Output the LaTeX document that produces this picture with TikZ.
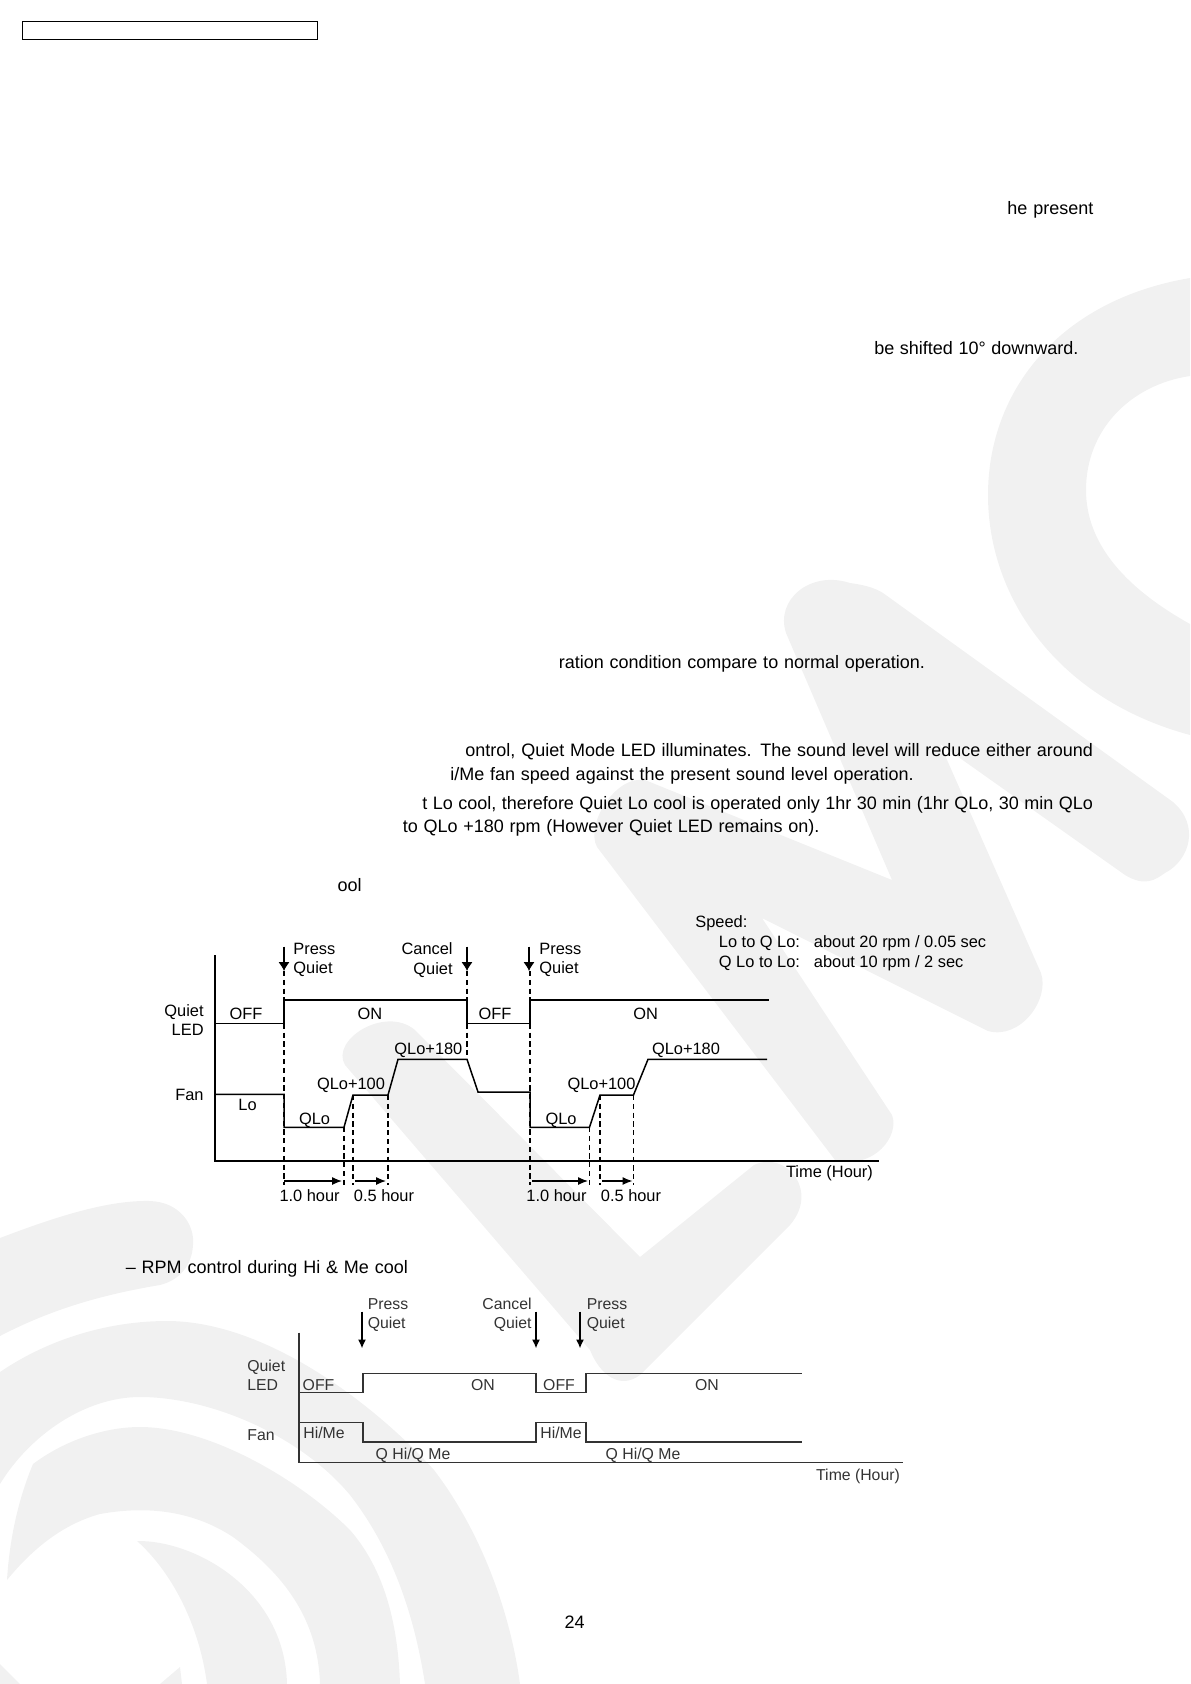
\documentclass[tikz,border=0pt]{standalone}
\usepackage{fontspec}
\setmainfont{Liberation Sans}
\usetikzlibrary{arrows.meta}
\definecolor{markgray}{HTML}{F1F1F1}
\definecolor{softblack}{HTML}{333333}
\newcommand{\fitline}[2]{\makebox[#1][s]{#2}}
\tikzset{
    bodytxt/.style={inner sep=0pt,text height=6.4pt,text depth=0pt,font=\fontsize{9}{11}\selectfont},
    lbl/.style={inner sep=0pt,text height=5.8pt,text depth=0pt,font=\fontsize{8.2}{9.7}\selectfont},
    lbltwo/.style={inner sep=0pt,align=#1,font=\fontsize{8.2}{9.7}\selectfont},
    lblb/.style={inner sep=0pt,text height=5.6pt,text depth=0pt,text=softblack,font=\fontsize{7.9}{9.4}\selectfont},
    lbltwob/.style={inner sep=0pt,align=#1,text=softblack,font=\fontsize{7.9}{9.4}\selectfont},
    guide/.style={line width=0.6pt,dash pattern=on 2.6pt off 1.8pt},
    trace/.style={line width=0.75pt},
    traceb/.style={line width=0.7pt,softblack},
}
\begin{document}
\begin{tikzpicture}[x=0.5pt,y=-0.5pt,>={Latex[length=4.4pt,width=5.6pt]}]
    \useasboundingbox (0,0) rectangle (1190,1684);

    % background mark
    \fill[markgray] (645,780) -- (892,880) -- (786,633)
    .. controls (775,600) and (810,570) .. (850,583)
    .. controls (865,585) and (875,588) .. (883,593)
    -- (1173,802)
    .. controls (1200,825) and (1190,860) .. (1165,873)
    .. controls (1155,880) and (1145,887) .. (1125,875)
    -- (940,744) -- (1041,973)
    .. controls (1050,1000) and (1020,1040) .. (988,1031)
    -- (762,918) -- (892,1115)
    .. controls (900,1135) and (875,1170) .. (835,1160)
    -- (597,847)
    .. controls (585,825) and (615,775) .. (645,780)
    -- cycle;
    \fill[markgray] (345,1065)
    .. controls (330,1040) and (385,1005) .. (415,1030)
    -- (640,1257) -- (754,1165)
    .. controls (785,1150) and (820,1190) .. (790,1225)
    -- (640,1375)
    .. controls (620,1390) and (600,1375) .. (590,1350)
    -- cycle;
    \fill[markgray] (1190,278) .. controls (1060,300) and (988,390) .. (988,495)
    .. controls (988,600) and (1060,700) .. (1190,735)
    -- (1190,624) .. controls (1120,585) and (1086,540) .. (1086,490)
    .. controls (1086,430) and (1130,385) .. (1190,376) -- cycle;
    \fill[markgray] (0,1238) .. controls (60,1215) and (110,1200) .. (150,1201)
    .. controls (180,1202) and (195,1225) .. (193,1245)
    .. controls (192,1265) and (180,1280) .. (160,1285)
    .. controls (100,1295) and (50,1310) .. (0,1336) -- cycle;
    \fill[markgray] (0,1372) .. controls (50,1338) and (110,1321) .. (167,1321)
    .. controls (270,1321) and (380,1410) .. (434,1470)
    .. controls (480,1530) and (510,1610) .. (520,1684)
    -- (425,1684) .. controls (412,1600) and (385,1540) .. (350,1495)
    .. controls (300,1435) and (210,1397) .. (140,1397)
    .. controls (85,1397) and (30,1435) .. (0,1484) -- cycle;
    \fill[markgray] (7,1580) .. controls (10,1530) and (22,1490) .. (33,1464)
    .. controls (65,1440) and (105,1427) .. (140,1427)
    .. controls (210,1427) and (300,1480) .. (350,1530)
    .. controls (385,1570) and (398,1625) .. (400,1684)
    -- (320,1684) .. controls (318,1620) and (285,1575) .. (233,1537)
    .. controls (195,1512) and (150,1505) .. (100,1514)
    .. controls (60,1525) and (30,1552) .. (7,1580) -- cycle;
    \fill[markgray] (137,1541) .. controls (195,1540) and (285,1590) .. (287,1684)
    -- (207,1684) .. controls (200,1630) and (175,1575) .. (137,1541) -- cycle;
    \fill[markgray] (160,1684) -- (180,1667) -- (182,1684) -- cycle;
    \fill[markgray] (0,1664) -- (20,1684) -- (0,1684) -- cycle;

    \draw[line width=0.5pt] (22,22) rectangle (317,40);

    % body lines
    \node[bodytxt,anchor=west] (linepresent) at (1007,208) {\fitline{43pt}{he present}};
    \node[bodytxt,anchor=west] (lineshift) at (874,348) {\fitline{102pt}{be shifted 10° downward.}};
    \node[bodytxt,anchor=west] (linecond) at (558.5,662.2) {\fitline{183pt}{ration condition compare to normal operation.}};
    \node[bodytxt,anchor=west] (lineled) at (465,750) {\fitline{313.8pt}{ontrol, Quiet Mode LED illuminates. The sound level will reduce either around}};
    \node[bodytxt,anchor=west] (linefan) at (450,774.5) {\fitline{231.7pt}{i/Me fan speed against the present sound level operation.}};
    \node[bodytxt,anchor=west] (linelo) at (422,803) {\fitline{335.3pt}{t Lo cool, therefore Quiet Lo cool is operated only 1hr 30 min (1hr QLo, 30 min QLo}};
    \node[bodytxt,anchor=west] (lineqlo) at (402.5,826) {\fitline{208.3pt}{to QLo +180 rpm (However Quiet LED remains on).}};
    \node[bodytxt,anchor=west] (lineool) at (337.2,885.5) {ool};
    \node[bodytxt,anchor=west] (linerpm) at (125.5,1267) {\fitline{141pt}{– RPM control during Hi \& Me cool}};
    \node[bodytxt] (pagenum) at (574.6,1622) {24};

    % Lo cool chart
    \draw[line width=0.85pt] (215,955) -- (215,1161) -- (879,1161);
    \draw[trace] (215,1023.3) -- (284,1023.3) -- (284,1000) -- (467,1000) -- (467,1023.3) -- (530,1023.3) -- (530,1000) -- (769,1000);
    \draw[trace] (215,1094.3) -- (284,1094.3) -- (284,1127.3) -- (344,1127.3) -- (353,1095) -- (388,1095) -- (398,1059.3)
    -- (467,1059.3) -- (478,1092) -- (530,1092) -- (530,1127.3) -- (589.5,1127.3) -- (600,1095) -- (633.5,1095) -- (648,1059.3) -- (767,1059.3);
    \foreach \xa/\ya in {284/971,529/971,467/971}
        \draw[->,line width=0.75pt] (\xa,946.7) -- (\xa,\ya);
    \draw[guide] (284,971) -- (284,1185);
    \draw[guide] (530,971) -- (530,1185);
    \draw[guide] (467,971) -- (467,1059);
    \foreach \xa/\ya in {344/1127,353/1095,388/1095,589.5/1127,600/1095,633.5/1095}
        \draw[guide] (\xa,\ya) -- (\xa,1185);
    \foreach \xa/\xb in {284/342,355/386,532/588,602/632.5}
        \draw[->,line width=0.6pt,>={Latex[length=5pt,width=4pt]}] (\xa,1181) -- (\xb,1181);

    \node[lbltwo=left,anchor=west] (pressa) at (293,960) {Press\\Quiet};
    \node[lbltwo=right,anchor=east] (cancela) at (453,960) {Cancel\\Quiet};
    \node[lbltwo=left,anchor=west] (pressb) at (539,960) {Press\\Quiet};
    \node[lbltwo=right,anchor=east] (ledname) at (204,1020) {Quiet\\LED};
    \node[lbl,anchor=east] (fanname) at (204,1095) {Fan};
    \node[lbl] (offa) at (246,1013.3) {OFF};
    \node[lbl] (ona) at (370,1013.3) {ON};
    \node[lbl] (offb) at (495,1013.3) {OFF};
    \node[lbl] (onb) at (645.6,1013.3) {ON};
    \node[lbl] (lolevel) at (247.6,1105) {Lo};
    \node[lbl] (qloa) at (314.5,1118.5) {QLo};
    \node[lbl] (qlob) at (561,1118.5) {QLo};
    \node[lbl] (plusa) at (351,1084) {QLo+100};
    \node[lbl] (plusb) at (601.5,1084) {QLo+100};
    \node[lbl] (plusc) at (428.4,1048.7) {QLo+180};
    \node[lbl] (plusd) at (686,1048.7) {QLo+180};
    \node[lbl] (timea) at (829.5,1172) {Time (Hour)};
    \node[lbl] (houra) at (309.6,1196) {1.0 hour};
    \node[lbl] (hourb) at (384,1196) {0.5 hour};
    \node[lbl] (hourc) at (556.5,1196) {1.0 hour};
    \node[lbl] (hourd) at (631,1196) {0.5 hour};
    \node[lbl,anchor=west] (speedname) at (695,922) {Speed:};
    \node[lbl,anchor=west] (speeddown) at (718.5,941.7) {Lo to Q Lo:};
    \node[lbl,anchor=west] (speedup) at (718.5,961.7) {Q Lo to Lo:};
    \node[lbl,anchor=west] (ratedown) at (813.5,941.7) {about 20 rpm / 0.05 sec};
    \node[lbl,anchor=west] (rateup) at (813.5,961.7) {about 10 rpm / 2 sec};

    % Hi and Me cool chart
    \draw[traceb] (299,1332.7) -- (299,1462.3) -- (903,1462.3);
    \draw[traceb] (299,1392.7) -- (363,1392.7) -- (363,1373.3) -- (536,1373.3) -- (536,1392.7) -- (586,1392.7) -- (586,1373.3) -- (801.6,1373.3);
    \draw[traceb] (299,1422.3) -- (363,1422.3) -- (363,1442) -- (536,1442) -- (536,1422.3) -- (586,1422.3) -- (586,1442) -- (801.6,1442);
    \foreach \xa in {362,536,580}
        \draw[->,line width=0.6pt,>={Latex[length=4.4pt,width=4pt]}] (\xa,1311.7) -- (\xa,1348.3);

    \node[lbltwob=left,anchor=west] (pressc) at (367.4,1315) {Press\\Quiet};
    \node[lbltwob=right,anchor=east] (cancelb) at (532,1315) {Cancel\\Quiet};
    \node[lbltwob=left,anchor=west] (pressd) at (586.5,1315) {Press\\Quiet};
    \node[lbltwob=left,anchor=west] (ledb) at (247,1375) {Quiet\\LED};
    \node[lblb,anchor=west] (fanb) at (247,1435) {Fan};
    \node[lblb] (offc) at (318.5,1385) {OFF};
    \node[lblb] (onc) at (483,1385) {ON};
    \node[lblb] (offd) at (559,1385) {OFF};
    \node[lblb] (ond) at (707,1385) {ON};
    \node[lblb] (hima) at (324,1433.3) {Hi/Me};
    \node[lblb] (himb) at (561,1433.3) {Hi/Me};
    \node[lblb] (qhia) at (413,1454) {Q Hi/Q Me};
    \node[lblb] (qhib) at (643,1454) {Q Hi/Q Me};
    \node[lblb] (timeb) at (858,1474.7) {Time (Hour)};
\end{tikzpicture}
\end{document}
